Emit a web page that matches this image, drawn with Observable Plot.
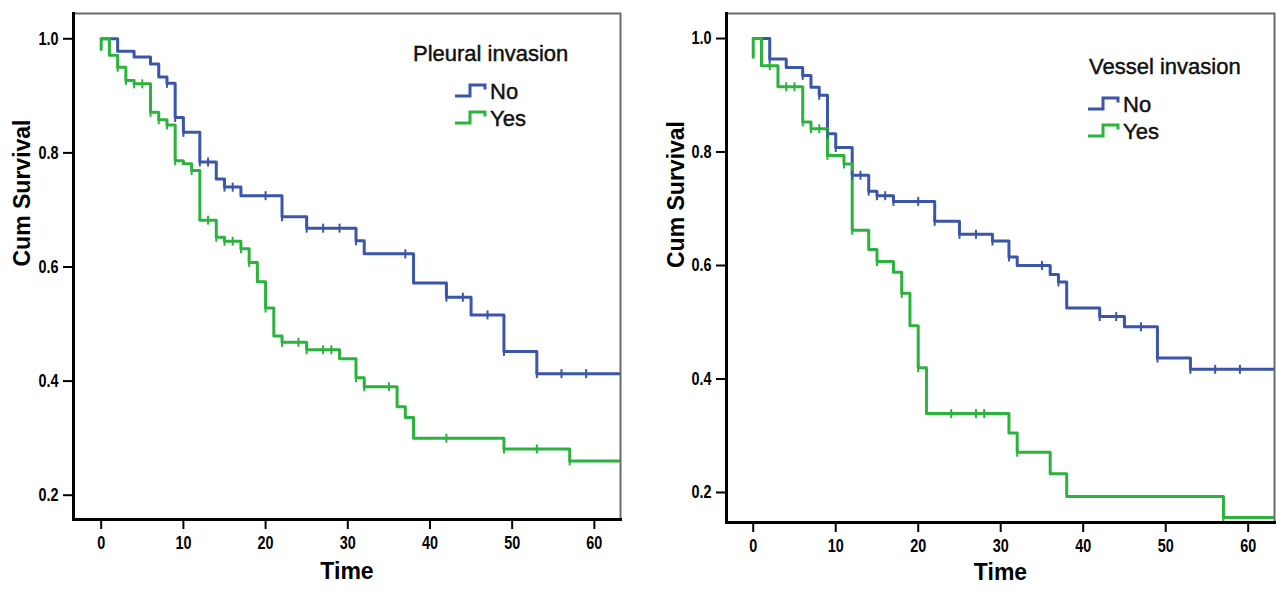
<!DOCTYPE html>
<html>
<head>
<meta charset="utf-8">
<script src="https://cdn.jsdelivr.net/npm/d3@7"></script>
<script src="https://cdn.jsdelivr.net/npm/@observablehq/plot@0.6"></script>
<style>
  html, body { margin: 0; padding: 0; background: #fff; }
  body { width: 1276px; height: 593px; overflow: hidden; position: relative; font-family: "Liberation Sans", Arial, sans-serif; }
  .panel { position: absolute; top: 0; }
  #overlay { position: absolute; left: 0; top: 0; pointer-events: none; }
</style>
</head>
<body>
<div id="left" class="panel" style="left:0px"></div>
<div id="right" class="panel" style="left:640px"></div>
<svg id="overlay" width="1276" height="593"></svg>
<script>
// ---------- data ----------
const groups = ["No", "Yes"];
const colors = ["#3a55a9", "#2bb33d"];
const xTicks = [0, 10, 20, 30, 40, 50, 60];
const yTicks = [0.2, 0.4, 0.6, 0.8, 1.0];
const followUpEnd = 66;

// Pleural invasion
const pleuralNoTime = [0, 2, 4, 6, 7, 8, 9, 10, 12, 14, 15, 17, 22, 25, 31, 32, 38, 42, 45, 49, 53];
const pleuralNoSurv = [1.0, 0.978, 0.968, 0.956, 0.933, 0.922, 0.862, 0.836, 0.784, 0.754, 0.740, 0.725, 0.688, 0.668, 0.646, 0.623, 0.572, 0.547, 0.516, 0.452, 0.413];
const pleuralNoCensor = [8, 9, 10, 12, 13, 15, 16, 20, 22, 25, 27, 29, 31, 37, 42, 44, 47, 49, 53, 56, 59];

const pleuralYesTime = [0, 0, 1, 2, 3, 4, 6, 7, 8, 9, 10, 11, 12, 14, 15, 17, 18, 19, 20, 21, 22, 25, 29, 31, 32, 36, 37, 38, 49, 57];
const pleuralYesSurv = [0.981, 1.0, 0.971, 0.950, 0.927, 0.921, 0.871, 0.858, 0.849, 0.786, 0.781, 0.769, 0.682, 0.652, 0.645, 0.632, 0.608, 0.574, 0.528, 0.479, 0.468, 0.455, 0.439, 0.406, 0.390, 0.355, 0.336, 0.300, 0.281, 0.260];
const pleuralYesCensor = [2, 3, 4, 5, 6, 7, 8, 9, 11, 13, 14, 15, 16, 17, 18, 20, 22, 24, 25, 27, 28, 31, 32, 35, 42, 49, 53, 57];

// Vessel invasion
const vesselNoTime = [0, 2, 4, 6, 7, 8, 9, 10, 12, 14, 15, 17, 22, 25, 29, 31, 32, 36, 37, 38, 42, 45, 49, 53];
const vesselNoSurv = [1.0, 0.964, 0.949, 0.935, 0.914, 0.900, 0.832, 0.808, 0.759, 0.731, 0.723, 0.713, 0.678, 0.655, 0.643, 0.615, 0.600, 0.584, 0.571, 0.525, 0.510, 0.492, 0.437, 0.417];
const vesselNoCensor = [2, 6, 8, 9, 10, 12, 13, 14, 15, 16, 17, 20, 22, 25, 27, 29, 31, 35, 37, 42, 44, 47, 49, 53, 56, 59];

const vesselYesTime = [0, 0, 1, 3, 6, 7, 9, 11, 12, 14, 15, 17, 18, 19, 20, 21, 31, 32, 36, 38, 57];
const vesselYesSurv = [0.967, 1.0, 0.952, 0.915, 0.853, 0.841, 0.794, 0.779, 0.662, 0.628, 0.607, 0.588, 0.551, 0.494, 0.420, 0.339, 0.305, 0.271, 0.233, 0.193, 0.156];
const vesselYesCensor = [2, 4, 5, 6, 7, 8, 9, 11, 12, 15, 18, 20, 24, 27, 28, 32, 57];

// ---------- helpers ----------
function stepRows(times, survs, group) {
  const rows = times.map((t, i) => ({time: t, surv: survs[i], group}));
  rows.push({time: followUpEnd, surv: survs[survs.length - 1], group});
  return rows;
}
function survAt(times, survs, t) {
  let v = survs[0];
  for (let i = 0; i < times.length; i++) if (times[i] <= t) v = survs[i];
  return v;
}
function censorRows(censor, times, survs, group) {
  return censor.map(t => ({time: t, surv: survAt(times, survs, t), group}));
}
const vTick = {
  draw(context, size) {
    const r = Math.sqrt(size / Math.PI);
    context.moveTo(0, -r);
    context.lineTo(0, r);
  }
};
const labelFont = '"Liberation Sans", Arial, sans-serif';
const fmtY = d3.format(".1f");

function panel(opts) {
  const lines = [
    ...stepRows(opts.noTime, opts.noSurv, "No"),
    ...stepRows(opts.yesTime, opts.yesSurv, "Yes")
  ];
  const cens = [
    ...censorRows(opts.noCensor, opts.noTime, opts.noSurv, "No"),
    ...censorRows(opts.yesCensor, opts.yesTime, opts.yesSurv, "Yes")
  ];
  return Plot.plot({
    width: opts.width,
    height: 593,
    marginLeft: opts.marginLeft,
    marginRight: opts.marginRight,
    marginTop: 13,
    marginBottom: opts.marginBottom,
    style: {background: "white", overflow: "visible"},
    x: {domain: opts.xDomain, axis: null},
    y: {domain: opts.yDomain, axis: null},
    color: {domain: groups, range: colors},
    marks: [
      Plot.frame({stroke: "#6a6a6a", strokeWidth: 2}),
      Plot.line(lines, {x: "time", y: "surv", z: "group", stroke: "group", curve: "step-after", strokeWidth: 3, clip: true}),
      Plot.dot(cens, {x: "time", y: "surv", stroke: "group", symbol: vTick, r: 4.5, strokeWidth: 2, fill: "none", clip: true}),
      Plot.frame({anchor: "left", stroke: "#000", strokeWidth: 3}),
      Plot.frame({anchor: "bottom", stroke: "#000", strokeWidth: 3}),
      Plot.axisX({ticks: xTicks, tickSize: 10, strokeWidth: 2, stroke: "#000", tickFormat: () => "", label: null}),
      Plot.axisY({ticks: yTicks, tickSize: 10, strokeWidth: 2, stroke: "#000", tickFormat: () => "", label: null}),
      Plot.text(xTicks, {x: d => d, text: d => String(d), frameAnchor: "bottom", dy: 24, lineAnchor: "middle",
        fontSize: 18, fontWeight: "bold", fontFamily: labelFont, fill: "#000", className: "ticklab"}),
      Plot.text(yTicks, {y: d => d, text: d => fmtY(d), frameAnchor: "left", dx: -15, textAnchor: "end", lineAnchor: "middle",
        fontSize: 18, fontWeight: "bold", fontFamily: labelFont, fill: "#000", className: "ticklab"}),
      Plot.text(["Cum Survival"], {frameAnchor: "left", rotate: -90, dx: opts.yLabelDx, fontSize: 23, fontWeight: "bold", fontFamily: labelFont, fill: "#000"}),
      Plot.text(["Time"], {frameAnchor: "bottom", dy: opts.xLabelDy, fontSize: 23, fontWeight: "bold", fontFamily: labelFont, fill: "#000"})
    ]
  });
}

const leftSvg = panel({
  width: 640, marginLeft: 73, marginRight: 20, marginBottom: 74,
  xDomain: [-3.37, 63.18], yDomain: [0.1574, 1.0443],
  noTime: pleuralNoTime, noSurv: pleuralNoSurv, noCensor: pleuralNoCensor,
  yesTime: pleuralYesTime, yesSurv: pleuralYesSurv, yesCensor: pleuralYesCensor,
  yLabelDx: -51, xLabelDy: 59
});
const rightSvg = panel({
  width: 636, marginLeft: 86, marginRight: 2, marginBottom: 71,
  xDomain: [-3.24, 63.19], yDomain: [0.1471, 1.0441],
  noTime: vesselNoTime, noSurv: vesselNoSurv, noCensor: vesselNoCensor,
  yesTime: vesselYesTime, yesSurv: vesselYesSurv, yesCensor: vesselYesCensor,
  yLabelDx: -50, xLabelDy: 57
});
document.getElementById("left").appendChild(leftSvg);
document.getElementById("right").appendChild(rightSvg);

// condense tick labels (narrow bold look)
[leftSvg, rightSvg].forEach(svg => {
  svg.querySelectorAll("g.ticklab text").forEach(el => {
    const w = el.getComputedTextLength();
    el.setAttribute("textLength", (w * 0.8).toFixed(2));
    el.setAttribute("lengthAdjust", "spacingAndGlyphs");
  });
});

// ---------- legends ----------
const overlay = d3.select("#overlay");
function legend(title, tx, ty, ix, iy0, gap, textX) {
  overlay.append("text").attr("x", tx).attr("y", ty).attr("dominant-baseline", "middle")
    .attr("font-family", labelFont).attr("font-size", 22).attr("fill", "#111")
    .attr("stroke", "#111").attr("stroke-width", 0.45).text(title);
  groups.forEach((g, i) => {
    const yc = iy0 + i * gap;
    overlay.append("path")
      .attr("d", `M${ix},${yc + 3}H${ix + 15}V${yc - 8}H${ix + 30}V${yc - 3.5}`)
      .attr("fill", "none").attr("stroke", colors[i]).attr("stroke-width", 3);
    overlay.append("text").attr("x", textX).attr("y", yc).attr("dominant-baseline", "middle")
      .attr("font-family", labelFont).attr("font-size", 22).attr("fill", "#111")
      .attr("stroke", "#111").attr("stroke-width", 0.45).text(g);
  });
}
legend("Pleural invasion", 413, 55, 455, 93, 27, 490);
legend("Vessel invasion", 1089, 68, 1088, 106, 27, 1123);
</script>
</body>
</html>
